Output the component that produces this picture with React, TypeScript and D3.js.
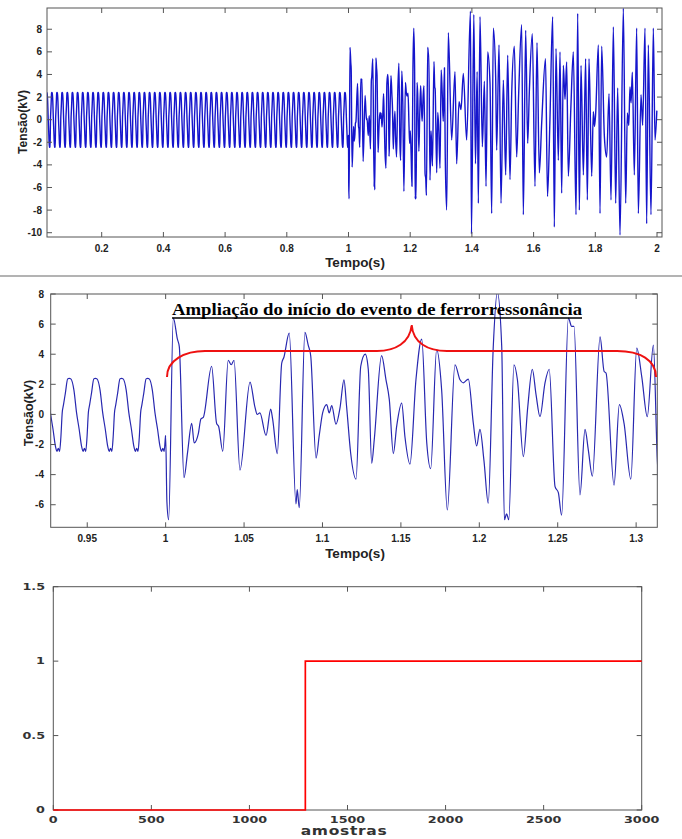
import React from 'react';
import * as d3 from 'd3';

type Pt = [number, number];

// one 60 Hz period of the pre-event voltage
// [fraction of the period after the positive peak, kV]
const steadyCycle: Pt[] = [
  [0.0, 2.4], [0.06, 2.36], [0.18, 1.6], [0.28, 0.1], [0.38, -1.0], [0.47, -2.1],
  [0.53, -2.45], [0.58, -2.25], [0.63, -2.45], [0.68, -1.5], [0.73, 0.1],
  [0.78, 0.65], [0.85, 1.4], [0.94, 2.36],
];
const steadyFirstPeak = 0.0052; // s
const steadyFreq = 60; // Hz
const eventStart = 1.0; // s

const eventEarly: Pt[] = [
  [1.0, -1.4], [1.0008, -5.8], [1.0019, -7.0], [1.0049, 6.4], [1.0075, 5.0], [1.0087, 4.5],
  [1.0117, -4.2], [1.014, -2.5], [1.0166, -0.6], [1.0182, -1.9], [1.0208, -1.3], [1.0225, -0.3],
  [1.024, -0.2], [1.0293, 3.2], [1.0325, -0.6], [1.0338, -0.8], [1.0364, -2.45], [1.0399, 3.6],
  [1.0418, 3.3], [1.0436, 3.6], [1.0474, -3.7], [1.0538, 2.15], [1.0569, 0.5], [1.0584, 0.0],
  [1.0601, 0.1], [1.064, -1.4], [1.067, 0.35], [1.0682, -0.3], [1.0712, -2.6], [1.074, 3.4],
  [1.0754, 3.8], [1.0788, 5.4], [1.0831, -5.95], [1.0839, -5.0], [1.0852, -6.2], [1.0888, 5.45],
  [1.0909, 4.6], [1.0925, 3.9], [1.0959, -2.9], [1.098, -1.35], [1.1001, 0.1], [1.1027, 0.65],
  [1.1043, 0.1], [1.1059, 0.58], [1.1086, -0.65], [1.1112, 0.45], [1.1137, 2.3], [1.1154, 0.5],
  [1.118, -2.6], [1.1214, -4.3], [1.1244, 3.2], [1.1273, 4.0], [1.1292, 3.0], [1.1314, -3.25],
  [1.133, -1.7], [1.1377, 3.9], [1.1405, 2.3], [1.1426, 1.0], [1.1452, -2.6], [1.1473, -0.8],
  [1.1505, 0.75], [1.1526, -1.5], [1.1558, -3.3], [1.1596, 2.3], [1.1633, 5.0], [1.1665, -1.9],
  [1.169, -3.6], [1.1728, 4.3], [1.176, 1.6], [1.1796, -6.35], [1.1845, 3.3], [1.1877, 2.3],
  [1.1898, 2.1], [1.193, 2.35], [1.1962, -0.6], [1.1983, -2.1], [1.2004, -1.0], [1.203, -3.1],
  [1.2057, -5.9], [1.2089, 4.5], [1.2115, 8.1], [1.2143, 4.5], [1.216, -7.0], [1.2174, -6.6],
  [1.2188, -7.0], [1.2221, 3.3], [1.2243, 2.3], [1.2281, -2.8], [1.2309, 0.5], [1.2338, 3.0],
  [1.2362, 1.3], [1.2387, -0.15], [1.2419, 2.1], [1.2446, 3.0], [1.2483, -4.8], [1.2504, -5.2],
  [1.2525, -6.7], [1.2568, 6.4], [1.2589, 5.85], [1.2604, 5.85], [1.2642, -5.35], [1.2674, -1.0],
  [1.2695, -2.35], [1.2721, -4.1], [1.277, 5.15], [1.2796, 2.85], [1.2808, 2.75], [1.2859, -4.7],
  [1.2893, 0.65], [1.2923, -0.6], [1.2966, -4.3], [1.3004, 4.4], [1.3036, 2.5], [1.3071, -0.15],
  [1.311, 4.6], [1.3135, -3.0],
];

const eventLate: Pt[] = [
  [1.3183, -8.0], [1.3236, 7.7], [1.3344, -1.8], [1.3452, 4.25], [1.3506, -3.9], [1.3582, 1.6],
  [1.3647, 0.9], [1.3722, 4.1], [1.383, -1.8], [1.3953, 9.6], [1.3986, -10.1], [1.4062, 9.3],
  [1.4116, -3.9], [1.417, 4.25], [1.4209, -7.4], [1.4263, 9.1], [1.4339, -2.4], [1.4404, 3.4],
  [1.4458, -5.9], [1.4512, 6.0], [1.4587, 3.2], [1.4641, -8.3], [1.4695, 8.1], [1.4771, 3.7],
  [1.4803, -2.7], [1.4879, 6.6], [1.4944, -7.4], [1.5019, 3.5], [1.5095, -4.9], [1.516, 5.7],
  [1.5235, -5.3], [1.529, 2.3], [1.5376, 6.5], [1.5451, -3.3], [1.5516, 2.3], [1.5613, 8.4],
  [1.5667, -8.4], [1.5743, 7.9], [1.5808, -2.1], [1.5862, 2.5], [1.5958, 7.6], [1.6045, -5.9],
  [1.611, 6.8], [1.6186, -4.7], [1.6262, -0.3], [1.6386, 5.4], [1.6451, -6.8], [1.6527, -0.3],
  [1.6618, 9.1], [1.6672, -9.5], [1.6726, 6.3], [1.6802, -3.6], [1.6856, 6.0], [1.691, -6.5],
  [1.6964, 4.8], [1.7018, 1.8], [1.7072, 5.1], [1.7126, -5.0], [1.7207, 1.0], [1.7288, 6.0],
  [1.7375, -8.4], [1.7429, 9.4], [1.7483, -8.0], [1.7537, 4.8], [1.7613, -4.9], [1.7686, 5.4],
  [1.7742, -7.1], [1.7796, 5.4], [1.7883, -5.0], [1.7936, 0.7], [1.7975, -0.6], [1.8012, 0.56],
  [1.8099, 6.6], [1.8153, -8.3], [1.8207, 6.5], [1.8294, -1.5], [1.8369, -3.3], [1.8445, 2.3],
  [1.8509, -7.1], [1.8585, 8.2], [1.8661, -7.4], [1.8725, 2.8], [1.8801, -10.2], [1.8909, 9.85],
  [1.8985, -7.4], [1.9039, 0.6], [1.9085, -0.5], [1.9124, 2.9], [1.916, 1.5], [1.92, 4.2],
  [1.9265, -4.9], [1.9341, 8.1], [1.9395, -8.3], [1.9481, 2.2], [1.9535, -0.5], [1.9611, 8.1],
  [1.9665, -9.2], [1.9719, 6.6], [1.9805, -8.4], [1.9881, 8.1], [1.9935, -1.8], [1.9995, 0.8],
];

// detection flag (bottom panel): [sample, level]
const flagSteps: Pt[] = [[0, 0], [1285, 1], [3000, 1]];

const topXTicks = [0.2, 0.4, 0.6, 0.8, 1, 1.2, 1.4, 1.6, 1.8, 2];
const topYTicks = [-10, -8, -6, -4, -2, 0, 2, 4, 6, 8];
const zoomXTicks = [0.95, 1, 1.05, 1.1, 1.15, 1.2, 1.25, 1.3];
const zoomYTicks = [-6, -4, -2, 0, 2, 4, 6, 8];
const flagXTicks = [0, 500, 1000, 1500, 2000, 2500, 3000];
const flagYTicks = [0, 0.5, 1, 1.5];

// steady part: the measured period repeated for every cycle before the event
const steady: Pt[] = [];
for (let k = -1; k < 60; k++) {
  steadyCycle.forEach(([ph, v]) => {
    const t = steadyFirstPeak + (k + ph) / steadyFreq;
    if (t >= 0 && t < eventStart) steady.push([t, v]);
  });
}
const signal: Pt[] = [...steady, ...eventEarly, ...eventLate];

const sans = '"Liberation Sans", Arial, sans-serif';

interface FrameProps {
  x: d3.ScaleLinear<number, number>;
  y: d3.ScaleLinear<number, number>;
  xTicks: number[];
  yTicks: number[];
  xLabelY: number;
  yLabelX: number;
  fontSize: number;
  color?: string;
  family?: string;
  stretch?: number;
}

const Frame: React.FC<FrameProps> = ({ x, y, xTicks, yTicks, xLabelY, yLabelX, fontSize, color = '#222', family = sans, stretch = 1 }) => {
  const [l, r] = x.range();
  const [b, t] = y.range();
  const tl = 5;
  return (
    <g>
      <rect x={l} y={t} width={r - l} height={b - t} fill="none" stroke="#555" strokeWidth={1} />
      {xTicks.map(v => (
        <g key={'x' + v}>
          <line x1={x(v)} x2={x(v)} y1={b} y2={b - tl} stroke="#555" />
          <line x1={x(v)} x2={x(v)} y1={t} y2={t + tl} stroke="#555" />
          <text transform={`translate(${x(v)},${xLabelY}) scale(${stretch},1)`} textAnchor="middle"
            fontFamily={family} fontWeight="bold" fontSize={fontSize} fill={color}>{String(v)}</text>
        </g>
      ))}
      {yTicks.map(v => (
        <g key={'y' + v}>
          <line x1={l} x2={l + tl} y1={y(v)} y2={y(v)} stroke="#555" />
          <line x1={r} x2={r - tl} y1={y(v)} y2={y(v)} stroke="#555" />
          <text transform={`translate(${yLabelX},${y(v)}) scale(${stretch},1)`} textAnchor="end" dy="0.35em"
            fontFamily={family} fontWeight="bold" fontSize={fontSize} fill={color}>{String(v)}</text>
        </g>
      ))}
    </g>
  );
};

export default function App() {
  const topX = d3.scaleLinear().domain([0.0227, 2.0162]).range([47, 662]);
  const topY = d3.scaleLinear().domain([-10.38, 9.88]).range([237, 8]);
  const zX = d3.scaleLinear().domain([0.9267, 1.3135]).range([50.7, 657.3]);
  const zY = d3.scaleLinear().domain([-7.5, 8]).range([527.3, 294]);
  const fX = d3.scaleLinear().domain([0, 3000]).range([53.3, 641.7]);
  const fY = d3.scaleLinear().domain([0, 1.5]).range([810, 586.7]);

  const topLine = d3.line<Pt>().x(d => topX(d[0])).y(d => topY(d[1])).curve(d3.curveMonotoneX);
  const zLine = d3.line<Pt>().x(d => zX(d[0])).y(d => zY(d[1])).curve(d3.curveMonotoneX);
  const fLine = d3.line<Pt>().x(d => fX(d[0])).y(d => fY(d[1])).curve(d3.curveStepAfter);

  const zoomed = signal.filter(d => d[0] >= 0.92 && d[0] <= 1.32);

  return (
    <svg width={682} height={839} style={{ position: 'absolute', left: 0, top: 0, background: '#fff' }}>
      <defs>
        <clipPath id="clipTop"><rect x={47} y={8} width={615} height={229} /></clipPath>
        <clipPath id="clipZoom"><rect x={50.7} y={294} width={606.6} height={233.3} /></clipPath>
      </defs>

      {/* full record */}
      <path d={topLine(signal) ?? ''} fill="none" stroke="#1515cc" strokeWidth={1.4} strokeLinejoin="round" clipPath="url(#clipTop)" />
      <Frame x={topX} y={topY} xTicks={topXTicks} yTicks={topYTicks} xLabelY={251.5} yLabelX={42} fontSize={10} />
      <text x={355} y={266.5} textAnchor="middle" fontFamily={sans} fontWeight="bold" fontSize={13.5} fill="#222">Tempo(s)</text>
      <text transform="translate(26.5,122) rotate(-90)" textAnchor="middle" fontFamily={sans} fontWeight="bold" fontSize={12} fill="#222">Tensão(kV)</text>

      <line x1={0} x2={682} y1={276} y2={276} stroke="#9a9a9a" strokeWidth={1.5} />

      {/* zoom on the start of the event */}
      <path d={zLine(zoomed) ?? ''} fill="none" stroke="#2828b0" strokeWidth={1.2} strokeLinejoin="round" clipPath="url(#clipZoom)" />
      <Frame x={zX} y={zY} xTicks={zoomXTicks} yTicks={zoomYTicks} xLabelY={541.5} yLabelX={44} fontSize={10} />
      <text x={355} y={558} textAnchor="middle" fontFamily={sans} fontWeight="bold" fontSize={13.5} fill="#222">Tempo(s)</text>
      <text transform="translate(32.5,413) rotate(-90)" textAnchor="middle" fontFamily={sans} fontWeight="bold" fontSize={12.5} fill="#222">Tensão(kV)</text>
      <text x={172} y={315} fontFamily='"Liberation Serif", "Times New Roman", serif' fontWeight="bold" fontSize={17}
        textLength={410} lengthAdjust="spacingAndGlyphs" fill="#000">Ampliação do início do evento de ferrorressonância</text>
      <line x1={172} x2={582} y1={318} y2={318} stroke="#000" strokeWidth={1.6} />
      <path d="M167,377 C167,360 185,351 205,351 L377,351 C395,351 410,343 411.7,325 C413,343 428,351 447,351 L617,351 C640,351 656,360 656,377"
        fill="none" stroke="#ee1111" strokeWidth={2} />

      {/* detection flag */}
      <Frame x={fX} y={fY} xTicks={flagXTicks} yTicks={flagYTicks} xLabelY={823} yLabelX={45} fontSize={8.5}
        color="#333" family='"DejaVu Sans", sans-serif' stretch={1.5} />
      <path d={fLine(flagSteps) ?? ''} fill="none" stroke="#ff0000" strokeWidth={1.7} />
      <text transform="translate(344,835) scale(1.35,1)" textAnchor="middle" fontFamily='"DejaVu Sans", sans-serif'
        fontWeight="bold" fontSize={11.5} fill="#333" letterSpacing={0.5}>amostras</text>
    </svg>
  );
}
